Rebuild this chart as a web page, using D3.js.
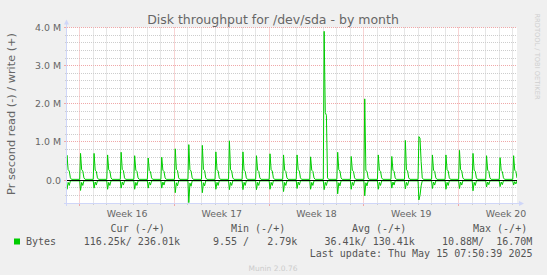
<!DOCTYPE html>
<html><head><meta charset="utf-8">
<script src="https://cdn.jsdelivr.net/npm/d3@7"></script>
<style>html,body{margin:0;padding:0;background:#f0f0f0;}svg{display:block;}</style>
</head><body><svg id="c" width="547" height="275"></svg>
<script>
// ---- data (values in millions of bytes / second) ----
const title = "Disk throughput for /dev/sda - by month";
const yAxisTitle = "Pr second read (-) / write (+)";
const firstDay = "2025-04-13";          // day of first daily spike
const viewStart = "2025-04-13T01:30";   // left edge of the plot
const viewDays = 33.25;
const writePeak  = [0.65,0.70,0.70,0.66,0.73,0.64,0.58,0.60,0.82,0.93,0.91,0.74,1.03,0.74,0.64,0.69,0.66,0.66,0.61,3.90,0.73,0.62,2.13,0.66,0.62,1.04,1.14,0.66,0.66,0.78,0.70,0.64,0.59,0.64];
const writeHoldA = [0.27,0.27,0.26,0.27,0.28,0.26,0.25,0.26,0.28,0.27,0.28,0.27,0.27,0.26,0.26,0.27,0.26,0.27,0.26,1.77,0.27,0.26,0.25,0.26,0.26,0.27,1.10,0.26,0.27,0.27,0.26,0.26,0.25,0.26];
const writeHoldB = [0.24,0.24,0.23,0.24,0.25,0.23,0.22,0.23,0.25,0.24,0.25,0.24,0.24,0.23,0.23,0.24,0.23,0.24,0.23,1.70,0.24,0.23,0.23,0.23,0.23,0.24,0.49,0.23,0.24,0.24,0.23,0.23,0.22,0.23];
const writeTail = 0.06, writeIdle = 0.02;
const readDip    = [-0.24,-0.27,-0.21,-0.24,-0.21,-0.24,-0.21,-0.21,-0.33,-0.59,-0.33,-0.24,-0.25,-0.25,-0.25,-0.24,-0.30,-0.22,-0.24,-0.25,-0.36,-0.24,-0.41,-0.24,-0.21,-0.23,-0.52,-0.22,-0.24,-0.22,-0.28,-0.18,-0.17,-0.13];
const readHoldA  = [-0.06,-0.06,-0.05,-0.06,-0.05,-0.06,-0.05,-0.05,-0.07,-0.08,-0.07,-0.06,-0.06,-0.06,-0.06,-0.06,-0.06,-0.05,-0.06,-0.06,-0.07,-0.06,-0.07,-0.06,-0.05,-0.06,-0.40,-0.05,-0.06,-0.05,-0.06,-0.05,-0.05,-0.04];
const readHoldB  = [-0.14,-0.14,-0.13,-0.14,-0.13,-0.14,-0.13,-0.13,-0.15,-0.16,-0.15,-0.14,-0.14,-0.14,-0.14,-0.14,-0.14,-0.13,-0.14,-0.14,-0.15,-0.14,-0.15,-0.14,-0.13,-0.14,-0.15,-0.13,-0.14,-0.13,-0.14,-0.12,-0.12,-0.10];
const readIdle = -0.02;
const spikeHours = [0, 1.5, 3.5, 5.5, 7.5, 9.5];
const yTicks = [0, 1, 2, 3, 4];
const yTickLabels = ["0.0", "1.0 M", "2.0 M", "3.0 M", "4.0 M"];
const weekStarts = ["2025-04-14", "2025-04-21", "2025-04-28", "2025-05-05", "2025-05-12"];
const weekLabels = ["Week 16", "Week 17", "Week 18", "Week 19", "Week 20"];
const seriesName = "Bytes";
const legendHeads = ["Cur (-/+)", "Min (-/+)", "Avg (-/+)", "Max (-/+)"];
const legendVals = ["116.25k/ 236.01k", "9.55 /   2.79k", "36.41k/ 130.41k", "10.88M/  16.70M"];
const lastUpdate = "Last update: Thu May 15 07:50:39 2025";
const munin = "Munin 2.0.76";
const watermark = "RRDTOOL / TOBI OETIKER";

// ---- layout ----
const svg = d3.select("#c");
const L = 67, R = 517, T = 27.5, B = 203;
const SANS = "'DejaVu Sans', sans-serif", MONO = "'DejaVu Sans Mono', monospace";
const HOUR = 3600000, DAY = 86400000;
const parseDay = s => { const [y,m,d] = s.split("-").map(Number); return new Date(y, m-1, d); };
const t0 = new Date(viewStart);
const t1 = new Date(t0.getTime() + viewDays * DAY);
const x = d3.scaleTime().domain([t0, t1]).range([L, R]);
const y = d3.scaleLinear().domain([-0.6, 4.0]).range([B, T]);
const crisp = v => Math.round(v - 0.5) + 0.5;

svg.append("rect").attr("width", 547).attr("height", 275).attr("fill", "#f0f0f0");
svg.append("rect").attr("x", L).attr("y", T).attr("width", R - L).attr("height", B - T).attr("fill", "#fff");

const grid = svg.append("g");
const GRID = "#cdcdcd", MGRID = "#f0a8a8", DASH = "1,1";
// horizontal grid
const hMinor = d3.range(-2, 21).map(k => k * 0.2).filter(v => Math.abs(v - Math.round(v)) > 1e-6);
hMinor.forEach(v => {
  const yy = crisp(y(v));
  grid.append("line").attr("x1", L).attr("x2", R).attr("y1", yy).attr("y2", yy)
    .attr("stroke", GRID).attr("stroke-dasharray", DASH);
  grid.append("line").attr("x1", L - 2).attr("x2", L).attr("y1", yy).attr("y2", yy).attr("stroke", GRID);
});
yTicks.forEach(v => {
  const yy = crisp(y(v));
  grid.append("line").attr("x1", L).attr("x2", R).attr("y1", yy).attr("y2", yy)
    .attr("stroke", MGRID).attr("stroke-dasharray", DASH);
  grid.append("line").attr("x1", L - 3).attr("x2", L).attr("y1", yy).attr("y2", yy).attr("stroke", MGRID);
});
// vertical grid
const dayLines = d3.timeDay.range(t0, t1);
const mondayLines = weekStarts.map(parseDay).filter(d => d >= t0 && d <= t1);
dayLines.forEach(d => {
  if (d.getDay() === 1) return;
  const xx = crisp(x(d));
  grid.append("line").attr("x1", xx).attr("x2", xx).attr("y1", T).attr("y2", B)
    .attr("stroke", GRID).attr("stroke-dasharray", DASH);
  grid.append("line").attr("x1", xx).attr("x2", xx).attr("y1", B).attr("y2", B + 2).attr("stroke", GRID);
});
mondayLines.forEach(d => {
  const xx = crisp(x(d));
  grid.append("line").attr("x1", xx).attr("x2", xx).attr("y1", T).attr("y2", B)
    .attr("stroke", MGRID).attr("stroke-dasharray", DASH);
  grid.append("line").attr("x1", xx).attr("x2", xx).attr("y1", B).attr("y2", B + 3).attr("stroke", MGRID);
});

// ---- series ----
svg.append("clipPath").attr("id", "clip").append("rect")
  .attr("x", L).attr("y", T).attr("width", R - L).attr("height", B - T);
const day0 = parseDay(firstDay);
const writePts = [], readPts = [];
writePeak.forEach((p, i) => {
  const base = day0.getTime() + i * DAY;
  const wv = [writeIdle, p, writeHoldA[i], writeHoldB[i], writeTail, writeIdle];
  const rv = [readIdle, readDip[i], readHoldA[i], readHoldB[i], readIdle, readIdle];
  spikeHours.forEach((h, k) => {
    writePts.push([new Date(base + h * HOUR), wv[k]]);
    readPts.push([new Date(base + h * HOUR), rv[k]]);
  });
});
const line = d3.line().x(d => x(d[0])).y(d => y(d[1]));
const series = svg.append("g").attr("clip-path", "url(#clip)");
series.append("path").attr("d", line(readPts)).attr("fill", "none").attr("stroke", "#00cc00").attr("stroke-width", 1);
series.append("path").attr("d", line(writePts)).attr("fill", "none").attr("stroke", "#00cc00").attr("stroke-width", 1);
// zero line
svg.append("line").attr("x1", L).attr("x2", R).attr("y1", crisp(y(0))).attr("y2", crisp(y(0)))
  .attr("stroke", "#000").attr("stroke-width", 1);

// ---- axes ----
const AX = "#cfd6f8";
svg.append("line").attr("x1", L - 0.5).attr("x2", L - 0.5).attr("y1", B + 3).attr("y2", T - 4).attr("stroke", AX);
svg.append("path").attr("d", `M${L-3},${T-3} L${L+2},${T-3} L${L-0.5},${T-8} Z`).attr("fill", AX);
svg.append("line").attr("x1", L - 3).attr("x2", R + 3).attr("y1", B + 0.5).attr("y2", B + 0.5).attr("stroke", AX);
svg.append("path").attr("d", `M${R+2},${B-2} L${R+2},${B+3} L${R+7},${B+0.5} Z`).attr("fill", AX);

// y labels
svg.append("g").selectAll("text").data(yTicks).join("text")
  .attr("x", 61).attr("y", d => y(d) + 3.5).attr("text-anchor", "end")
  .attr("font-family", SANS).attr("font-size", 9.4).attr("fill", "#666")
  .text((d, i) => yTickLabels[i]);
// week labels
svg.append("g").selectAll("text").data(weekStarts).join("text")
  .attr("x", d => x(new Date(parseDay(d).getTime() + 3.5 * DAY)))
  .attr("y", 216.5).attr("text-anchor", "middle")
  .attr("font-family", SANS).attr("font-size", 9.4).attr("fill", "#666")
  .text((d, i) => weekLabels[i]);

// title
svg.append("text").attr("x", 273).attr("y", 24).attr("text-anchor", "middle")
  .attr("font-family", SANS).attr("font-size", 12.5).attr("fill", "#666").text(title);
// y axis title
svg.append("text").attr("transform", "translate(15,114) rotate(-90)").attr("text-anchor", "middle")
  .attr("font-family", SANS).attr("font-size", 11.3).attr("fill", "#666").text(yAxisTitle);
// watermark
svg.append("text").attr("transform", "translate(534.5,56.5) rotate(90)").attr("text-anchor", "middle")
  .attr("font-family", SANS).attr("font-size", 6.7).attr("fill", "#cfcfcf").text(watermark);

// legend
const headX = [110.6, 231, 352, 473];
const valX = [83.7, 213, 324.5, 442];
const mono = sel => sel.attr("font-family", MONO).attr("font-size", 10).attr("fill", "#555").style("white-space", "pre");
legendHeads.forEach((t, i) => mono(svg.append("text").attr("x", headX[i]).attr("y", 232.3)).text(t));
svg.append("rect").attr("x", 14).attr("y", 238.5).attr("width", 6).attr("height", 6).attr("fill", "#00cc00");
mono(svg.append("text").attr("x", 26).attr("y", 244.8)).text(seriesName);
legendVals.forEach((t, i) => mono(svg.append("text").attr("x", valX[i]).attr("y", 244.8)).text(t));
mono(svg.append("text").attr("x", 532.5).attr("y", 257.2).attr("text-anchor", "end")).text(lastUpdate);
svg.append("text").attr("x", 273).attr("y", 270.5).attr("text-anchor", "middle")
  .attr("font-family", SANS).attr("font-size", 7.5).attr("fill", "#cccccc").text(munin);
</script></body></html>
